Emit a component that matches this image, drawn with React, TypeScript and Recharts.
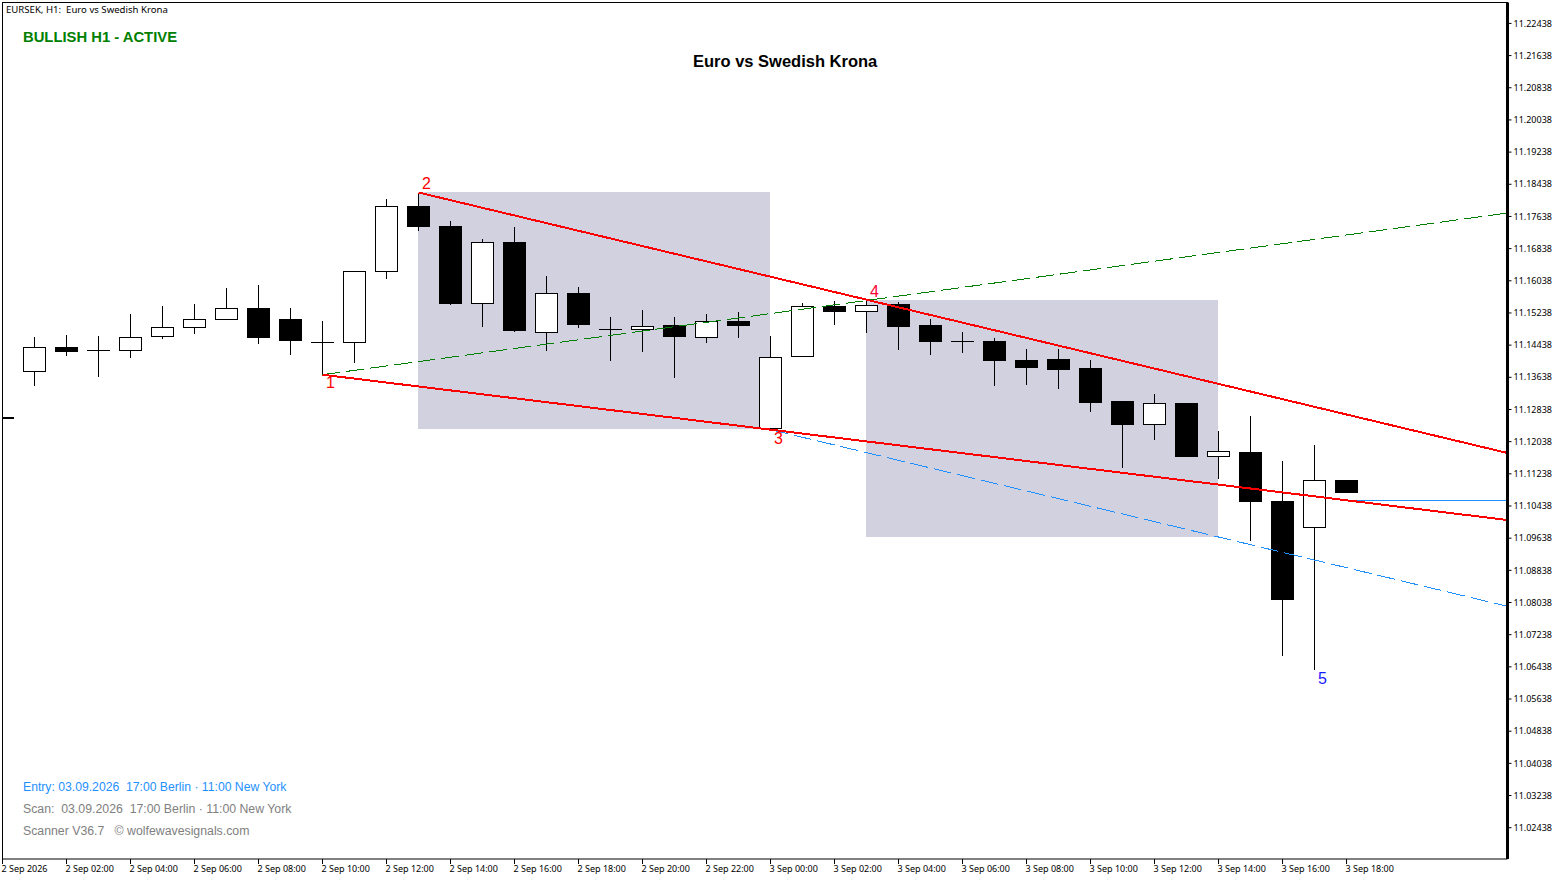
import {
  Bar,
  ComposedChart,
  Line,
  ReferenceArea,
  ReferenceDot,
  XAxis,
  YAxis,
} from 'recharts'

const hours = [
  1, 2, 3, 4, 5, 6, 7, 8, 9, 10, 11, 12, 13, 14, 15, 16, 17, 18, 19, 20, 21,
  22, 23, 24, 25, 26, 27, 28, 29, 30, 31, 32, 33, 34, 35, 36, 37, 38, 39, 40,
  41, 42,
]
const opens = [
  11.13787, 11.14391, 11.14309, 11.14309, 11.14657, 11.14881, 11.1508, 11.15361,
  11.15063, 11.14508, 11.14508, 11.16274, 11.17897, 11.174, 11.15468, 11.17002,
  11.14757, 11.15734, 11.14831, 11.14821, 11.14914, 11.14632, 11.15038, 11.1237,
  11.1416, 11.15411, 11.15279, 11.15436, 11.14914, 11.14523, 11.14516, 11.14068,
  11.14093, 11.13869, 11.13024, 11.12459, 11.12999, 11.11673, 11.1178, 11.10562,
  11.09908, 11.11084,
]
const highs = [
  11.1464, 11.1469, 11.14665, 11.15212, 11.15411, 11.15461, 11.15858, 11.15933,
  11.15361, 11.15038, 11.16274, 11.18071, 11.18228, 11.17524, 11.17077, 11.17375,
  11.16157, 11.15883, 11.15137, 11.15311, 11.15137, 11.15212, 11.15262, 11.14665,
  11.15485, 11.15535, 11.1556, 11.15503, 11.15088, 11.14764, 11.14615, 11.14342,
  11.14342, 11.14068, 11.13041, 11.13223, 11.12999, 11.12303, 11.12676, 11.11557,
  11.11954, 11.11084,
]
const lows = [
  11.13429, 11.14175, 11.13653, 11.14125, 11.14598, 11.14722, 11.1508, 11.14473,
  11.142, 11.13703, 11.14001, 11.1609, 11.17283, 11.15443, 11.14896, 11.14772,
  11.14299, 11.14871, 11.14051, 11.14274, 11.13628, 11.14498, 11.14623, 11.12327,
  11.1416, 11.14946, 11.14747, 11.14324, 11.142, 11.1425, 11.13429, 11.13454,
  11.13354, 11.12782, 11.1139, 11.12086, 11.11664, 11.11116, 11.09567, 11.06715,
  11.06367, 11.10768,
]
const closes = [
  11.14384, 11.14292, 11.14309, 11.14632, 11.14881, 11.1508, 11.15354, 11.14623,
  11.14548, 11.14508, 11.16274, 11.17897, 11.17383, 11.15468, 11.16995, 11.14797,
  11.15727, 11.14946, 11.14831, 11.14906, 11.14647, 11.1503, 11.14938, 11.14135,
  11.15403, 11.15262, 11.15428, 11.14896, 11.14523, 11.14523, 11.14051, 11.13877,
  11.13827, 11.13006, 11.12459, 11.12991, 11.11664, 11.11798, 11.10545, 11.08108,
  11.11077, 11.10768,
]

const priceTicks = [
  11.22438, 11.21638, 11.20838, 11.20038, 11.19238, 11.18438, 11.17638, 11.16838,
  11.16038, 11.15238, 11.14438, 11.13638, 11.12838, 11.12038, 11.11238, 11.10438,
  11.09638, 11.08838, 11.08038, 11.07238, 11.06438, 11.05638, 11.04838, 11.04038,
  11.03238, 11.02438,
]
const hourTicks = [
  0, 2, 4, 6, 8, 10, 12, 14, 16, 18, 20, 22, 24, 26, 28, 30, 32, 34, 36, 38, 40,
  42,
]
const hourLabels = [
  '2 Sep 2026', '2 Sep 02:00', '2 Sep 04:00', '2 Sep 06:00', '2 Sep 08:00',
  '2 Sep 10:00', '2 Sep 12:00', '2 Sep 14:00', '2 Sep 16:00', '2 Sep 18:00',
  '2 Sep 20:00', '2 Sep 22:00', '3 Sep 00:00', '3 Sep 02:00', '3 Sep 04:00',
  '3 Sep 06:00', '3 Sep 08:00', '3 Sep 10:00', '3 Sep 12:00', '3 Sep 14:00',
  '3 Sep 16:00', '3 Sep 18:00',
]

// wolfe wave lines, [hour, price] at each end
const upperWedge = [
  { hour: 13, price: 11.18233 },
  { hour: 47.03, price: 11.11756 },
]
const lowerWedge = [
  { hour: 10, price: 11.13703 },
  { hour: 47.03, price: 11.10089 },
]
const greenTarget = [
  { hour: 10, price: 11.13703 },
  { hour: 47.03, price: 11.17723 },
]
const blueChannel = [
  { hour: 24, price: 11.12337 },
  { hour: 47.03, price: 11.07944 },
]
const entryLine = [
  { hour: 42, price: 11.10579 },
  { hour: 47.03, price: 11.10579 },
]
const bidMarker = [
  { hour: 0, price: 11.12626 },
  { hour: 0.37, price: 11.12626 },
]

const waveNames = ['1', '2', '3', '4', '5']
const waveHours = [10.25, 13.25, 24.25, 27.25, 41.25]
const wavePrices = [11.13521, 11.18457, 11.12128, 11.15784, 11.06153]
const waveColors = ['#ff0000', '#ff0000', '#ff0000', '#ff0033', '#1a1aff']

const candles = hours.map((hour, i) => ({
  hour,
  open: opens[i],
  close: closes[i],
  high: highs[i],
  low: lows[i],
  range: [lows[i], highs[i]],
}))

const Candle = ({ x, y, width, height, payload }: any) => {
  const { open, close, high, low } = payload
  const cx = Math.floor(x + width / 2) + 0.5
  const perPrice = height / (high - low)
  const top = y + (high - Math.max(open, close)) * perPrice
  const bottom = y + (high - Math.min(open, close)) * perPrice
  const bull = close > open
  return (
    <g shapeRendering="crispEdges">
      <line x1={cx} x2={cx} y1={y} y2={y + height} stroke="#000" />
      {open === close ? (
        <line x1={cx - 11.5} x2={cx + 11.5} y1={top} y2={top} stroke="#000" strokeWidth={1.5} />
      ) : (
        <rect
          x={cx - 11}
          y={top}
          width={22}
          height={bottom - top}
          fill={bull ? '#fff' : '#000'}
          stroke="#000"
        />
      )}
    </g>
  )
}

const HourTick = ({ x, y, payload }: any) => (
  <text x={x - 1} y={y + 4} fontSize={9} fontFamily="Noto Sans" fill="#000" dominantBaseline="middle">
    {hourLabels[hourTicks.indexOf(payload.value)]}
  </text>
)

const overlay = (left: number, top: number, color: string, size: number, bold = false): any => ({
  position: 'absolute',
  left,
  top,
  color,
  fontSize: size,
  lineHeight: 1,
  fontWeight: bold ? 700 : 400,
  fontFamily: 'Liberation Sans',
  whiteSpace: 'pre',
  transform: 'translateY(-50%)',
})

export default function App() {
  return (
    <div style={{ position: 'absolute', left: 0, top: 0, width: 1565, height: 880, background: '#fff', overflow: 'hidden' }}>
      <div style={{ position: 'absolute', left: 2, top: 2, width: 1505, height: 857, borderTop: '1px solid #000', borderLeft: '1px solid #000' }} />
      <ComposedChart
        width={1565}
        height={880}
        data={candles}
        margin={{ top: 2.5, right: 0, bottom: 0, left: 2.5 }}
        style={{ position: 'absolute', left: 0, top: 0 }}
      >
        <XAxis
          dataKey="hour"
          type="number"
          domain={[0, 47.03]}
          ticks={hourTicks}
          interval={0}
          height={21}
          stroke="#000"
          tickSize={5}
          tick={<HourTick />}
        />
        <YAxis
          orientation="right"
          type="number"
          domain={[11.0166, 11.22958]}
          ticks={priceTicks}
          interval={0}
          width={57.5}
          tickSize={4}
          tickLine={{ stroke: '#000' }}
          axisLine={{ stroke: '#000', strokeWidth: 3 }}
          tickFormatter={(v: number) => v.toFixed(5)}
          tick={{ fontSize: 9, fontFamily: 'Noto Sans', fill: '#000' }}
        />
        <ReferenceArea x1={12.99} x2={23.99} y1={11.18246} y2={11.12352} fill="#d1d1e0" fillOpacity={1} stroke="none" shapeRendering="crispEdges" />
        <ReferenceArea x1={26.99} x2={37.99} y1={11.1556} y2={11.09667} fill="#d1d1e0" fillOpacity={1} stroke="none" shapeRendering="crispEdges" />
        <Bar dataKey="range" barSize={22} shape={<Candle />} isAnimationActive={false} />
        <Line data={greenTarget} dataKey="price" stroke="#008000" strokeWidth={1} strokeDasharray="18 6" dot={false} isAnimationActive={false} shapeRendering="crispEdges" />
        <Line data={blueChannel} dataKey="price" stroke="#1e90ff" strokeWidth={1} strokeDasharray="18 6" dot={false} isAnimationActive={false} shapeRendering="crispEdges" />
        <Line data={entryLine} dataKey="price" stroke="#1e90ff" strokeWidth={1} dot={false} isAnimationActive={false} shapeRendering="crispEdges" />
        <Line data={upperWedge} dataKey="price" stroke="#ff0000" strokeWidth={2} dot={false} isAnimationActive={false} shapeRendering="crispEdges" />
        <Line data={lowerWedge} dataKey="price" stroke="#ff0000" strokeWidth={2} dot={false} isAnimationActive={false} shapeRendering="crispEdges" />
        <Line data={bidMarker} dataKey="price" stroke="#000" strokeWidth={2} dot={false} isAnimationActive={false} shapeRendering="crispEdges" />
        {waveNames.map((name, i) => (
          <ReferenceDot
            key={name}
            x={waveHours[i]}
            y={wavePrices[i]}
            r={0}
            stroke="none"
            label={{ value: name, position: 'center', fill: waveColors[i], fontSize: 16, fontFamily: 'Liberation Sans' }}
          />
        ))}
      </ComposedChart>
      <div style={{ ...overlay(6, 9.5, '#000', 9.6), fontFamily: 'Noto Sans' }}>EURSEK, H1:  Euro vs Swedish Krona</div>
      <div style={overlay(23, 36.5, '#008000', 14.8, true)}>BULLISH H1 - ACTIVE</div>
      <div style={overlay(693, 61, '#000', 16.5, true)}>Euro vs Swedish Krona</div>
      <div style={overlay(23, 787, '#1e90ff', 12.2)}>Entry: 03.09.2026  17:00 Berlin · 11:00 New York</div>
      <div style={overlay(23, 809, '#808080', 12.3)}>Scan:  03.09.2026  17:00 Berlin · 11:00 New York</div>
      <div style={overlay(23, 831, '#808080', 12.3)}>Scanner V36.7   © wolfewavesignals.com</div>
    </div>
  )
}
